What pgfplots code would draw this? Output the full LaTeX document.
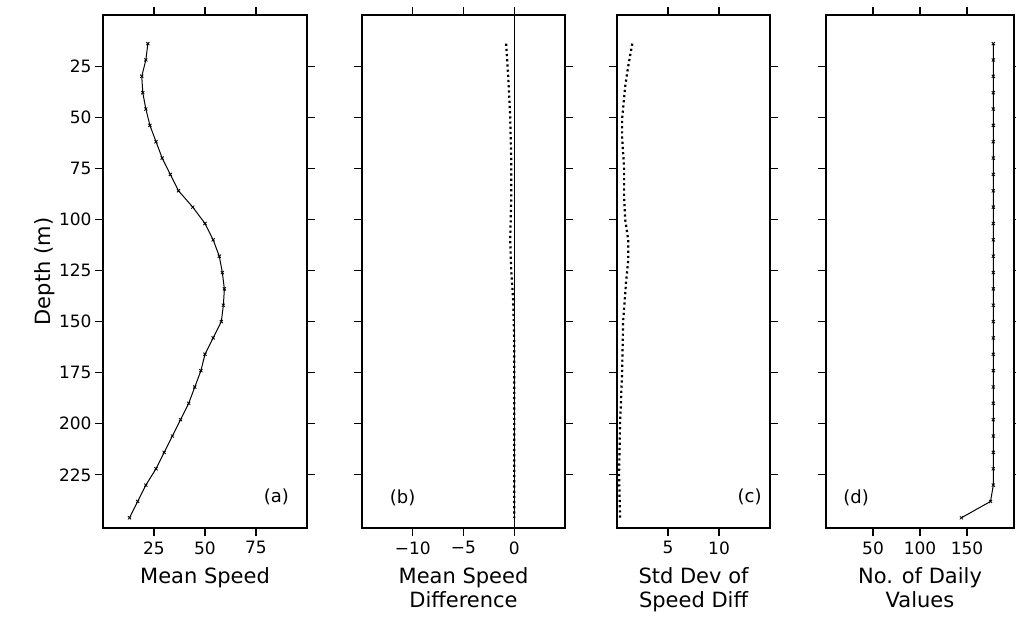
\documentclass[border=0pt]{standalone}
\usepackage{pgfplots}
\pgfplotsset{compat=1.18}
\usepackage{fontspec}
\setmainfont{DejaVu Sans}
\begin{document}
\begin{tikzpicture}
\useasboundingbox (0,0) rectangle (1016pt,625pt);
\pgfplotsset{every axis/.style={scale only axis, height=513pt, y dir=reverse, ymin=0, ymax=251,
 tick align=outside, major tick length=8pt, tick style={black, line width=1.1pt}, axis line style={line width=1.1pt},
 ytick={25,50,...,225}, yticklabels={}, anchor=south west,
 tick label style={font=\fontsize{17}{19}\selectfont},
 x tick label style={yshift=-2pt},
 label style={font=\fontsize{21}{24}\selectfont},
 /pgf/number format/assume math mode=true, xlabel style={align=center, yshift=-6pt}, clip=false}}
\tikzset{dots/.style={black, line width=2.2pt, dash pattern=on 2.2pt off 3pt}}
% (a)
\begin{axis}[at={(103pt,97pt)}, width=204pt, xmin=0, xmax=100, xtick={25,50,75},
  yticklabels={25,50,75,100,125,150,175,200,225}, ylabel={Depth (m)}, xlabel={Mean Speed}, ylabel style={yshift=-3pt}]
\addplot[black, line width=1pt, mark=x, mark size=2.2pt, mark options={line width=0.8pt}] coordinates {
(22,14)(21,22)(19,30)(19.5,38)(21,46)(23,54)(26,62)(29,70)(33,78)(37,86)(44,94)(50,102)(54,110)(57,118)(58.5,126)(59.5,134)(59,142)(58,150)(54,158)(50,166)(48,174)(45,182)(42,190)(38,198)(34,206)(30,214)(26,222)(21,230)(17,238)(13,246)};
\node[font=\fontsize{18}{20}\selectfont] at (axis cs:85,236) {(a)};
\end{axis}
% (b)
\begin{axis}[at={(362pt,97pt)}, width=203pt, xmin=-15, xmax=5, xtick={-10,-5,0}, xticklabels={−10,−5,0},
  xlabel={Mean Speed\\Difference}]
\addplot[black, line width=1.3pt] coordinates {(0,0)(0,251)};
\addplot[dots] coordinates {
(-0.8,14)(-0.6,30)(-0.4,50)(-0.3,70)(-0.3,90)(-0.4,110)(-0.3,125)(-0.1,140)(0,160)(0,200)(0,246)};
\node[font=\fontsize{18}{20}\selectfont] at (axis cs:-11,236) {(b)};
\end{axis}
% (c)
\begin{axis}[at={(617pt,97pt)}, width=153pt, xmin=0, xmax=15, xtick={5,10},
  xlabel={Std Dev of\\Speed Diff}]
\addplot[dots] coordinates {
(1.5,14)(1.1,25)(0.8,35)(0.5,51)(0.5,60)(0.7,75)(0.7,90)(0.8,100)(1.1,110)(1.1,120)(0.9,130)(0.6,150)(0.5,175)(0.3,200)(0.2,225)(0.3,246)};
\node[font=\fontsize{18}{20}\selectfont] at (axis cs:13,236) {(c)};
\end{axis}
% (d)
\begin{axis}[at={(826pt,97pt)}, width=188pt, xmin=0, xmax=200, xtick={50,100,150},
  xlabel={No. of Daily\\Values}]
\addplot[black, line width=1pt, mark=x, mark size=2.2pt, mark options={line width=0.8pt}] coordinates {
(178,14)(178,22)(178,30)(178,38)(178,46)(178,54)(178,62)(178,70)(178,78)(178,86)(178,94)(178,102)(178,110)(178,118)(178,126)(178,134)(178,142)(178,150)(178,158)(178,166)(178,174)(178,182)(178,190)(178,198)(178,206)(178,214)(178,222)(178,230)(175,238)(144,246)};
\node[font=\fontsize{18}{20}\selectfont] at (axis cs:32,236) {(d)};
\end{axis}
\end{tikzpicture}
\end{document}
